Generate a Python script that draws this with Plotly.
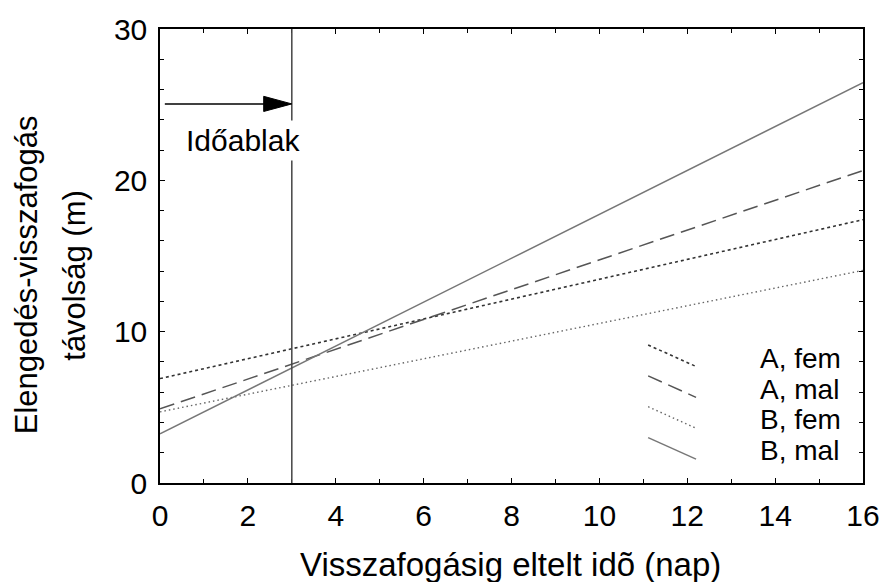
import plotly.graph_objects as go

# ---- data ----
x_days = [0, 16]
a_fem = [6.9, 17.4]
a_mal = [4.9, 20.65]
b_fem = [4.7, 14.05]
b_mal = [3.25, 26.45]
series_names = ["A, fem", "A, mal", "B, fem", "B, mal"]
x_ticks = [0, 2, 4, 6, 8, 10, 12, 14, 16]
y_ticks = [0, 10, 20, 30]
window_day = 3
window_label = "Időablak"
x_title = "Visszafogásig eltelt idõ (nap)"
y_title_lines = ["Elengedés-visszafogás", "távolság (m)"]

FONT = "Arial, Liberation Sans, sans-serif"
styles = [
    dict(color="#333333", width=1.6, dash="3px,3px"),
    dict(color="#555555", width=1.5, dash="15px,7px"),
    dict(color="#666666", width=1.4, dash="1.5px,3px"),
    dict(color="#777777", width=1.5, dash="solid"),
]
series = [a_fem, a_mal, b_fem, b_mal]

fig = go.Figure()
for name, ys, st in zip(series_names, series, styles):
    fig.add_trace(go.Scatter(x=x_days, y=ys, mode="lines", name=name,
                             line=st, showlegend=False, hoverinfo="skip"))

# vertical window line
fig.add_shape(type="line", x0=window_day, x1=window_day, y0=0, y1=30,
              xref="x", yref="y", line=dict(color="#444444", width=1.5), layer="above")

# arrow from 0 to window
arrow_y = 25.05
head_len = 0.64
head_half = 0.5
fig.add_shape(type="line", x0=0.11, x1=window_day - head_len + 0.05, y0=arrow_y, y1=arrow_y,
              xref="x", yref="y", line=dict(color="black", width=1.5))
fig.add_shape(type="path",
              path=f"M {window_day - head_len},{arrow_y - head_half} L {window_day},{arrow_y} "
                   f"L {window_day - head_len},{arrow_y + head_half} Z",
              xref="x", yref="y", fillcolor="black", line=dict(color="black", width=1))

fig.add_annotation(x=1.9, y=22.65, xref="x", yref="y", text=window_label, showarrow=False,
                   font=dict(family=FONT, size=30, color="black"),
                   bgcolor="white", borderpad=3)

# custom legend with diagonal samples
leg_x0, leg_x1 = 11.11, 12.2
leg_top = 9.12
leg_step = 2.04
leg_drop = 1.42
leg_text_x = 13.62
leg_text_off = 0.87
for i, (name, st) in enumerate(zip(series_names, styles)):
    y0 = leg_top - i * leg_step
    fig.add_shape(type="line", x0=leg_x0, x1=leg_x1, y0=y0, y1=y0 - leg_drop,
                  xref="x", yref="y", line=st)
    fig.add_annotation(x=leg_text_x, y=y0 - leg_text_off, xref="x", yref="y",
                       text=name, showarrow=False, xanchor="left", yanchor="middle",
                       font=dict(family=FONT, size=28, color="black"))

# axis titles
fig.add_annotation(x=0.498, y=-0.18, xref="paper", yref="paper", text=x_title,
                   showarrow=False, xanchor="center", yanchor="middle",
                   font=dict(family=FONT, size=33, color="black"))
for xp, line in zip([-0.19, -0.121], y_title_lines):
    fig.add_annotation(x=xp, y=0.4586, xref="paper", yref="paper", text=line,
                       showarrow=False, textangle=-90, xanchor="center", yanchor="middle",
                       font=dict(family=FONT, size=31, color="black"))

axis_common = dict(
    showline=True, linecolor="black", linewidth=1.5, mirror="ticks",
    ticks="inside", ticklen=5, tickwidth=1, tickcolor="black",
    showgrid=False, zeroline=False,
    tickfont=dict(family=FONT, size=30, color="black"),
)
fig.update_xaxes(range=[0, 16], tickvals=x_ticks, ticktext=[str(v) for v in x_ticks],
                 minor=dict(dtick=1, ticks="inside", ticklen=4, tickcolor="black", showgrid=False),
                 ticklabelstandoff=5, **axis_common)
fig.update_yaxes(range=[0, 30], tickvals=y_ticks, ticktext=[str(v) for v in y_ticks],
                 minor=dict(dtick=2, ticks="inside", ticklen=4, tickcolor="black", showgrid=False),
                 ticklabelstandoff=5, **axis_common)

fig.update_layout(width=892, height=582, margin=dict(l=160, r=23, t=24, b=99),
                  plot_bgcolor="white", paper_bgcolor="white", showlegend=False)

fig.write_html("out.html")
